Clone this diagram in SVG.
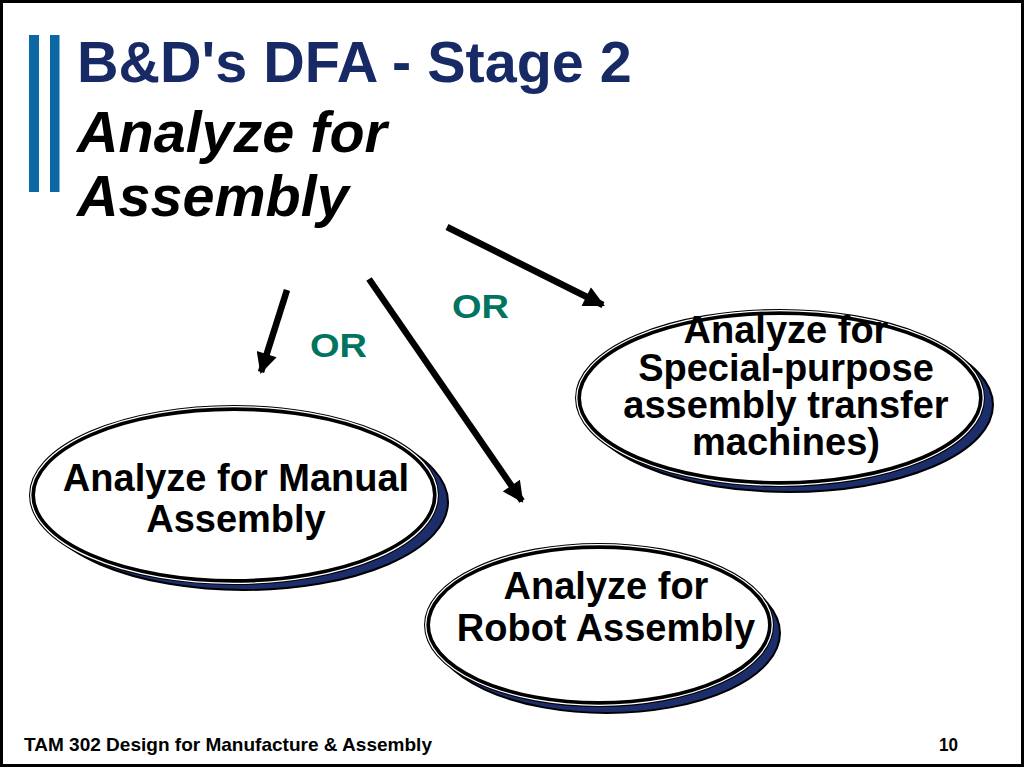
<svg xmlns="http://www.w3.org/2000/svg" width="1024" height="768" viewBox="0 0 1024 768">
<defs>
<marker id="ah" viewBox="0 0 10 10" refX="9" refY="5" markerWidth="3.4" markerHeight="3.2" orient="auto" markerUnits="strokeWidth">
<path d="M0,0 L10,5 L0,10 z" fill="#000"/>
</marker>
</defs>
<style>
.t{font-family:"Liberation Sans",Arial,sans-serif;font-weight:bold}
.title{fill:#172a66;font-size:57.5px}
.sub{fill:#000;font-size:57.5px;font-style:italic}
.lbl{fill:#000;font-size:38px;text-anchor:middle}
.or{fill:#00745f;font-size:34px}
.sh{fill:#1c2d6b;stroke:#000;stroke-width:2}
.el{fill:#fff;stroke:#000;stroke-width:6}
.in{fill:none;stroke:#fff;stroke-width:1.3}
.ar{stroke:#000;stroke-width:6.5;fill:none;marker-end:url(#ah)}
.ft{fill:#000;font-size:19px}
</style>
<rect x="0" y="0" width="1024" height="768" fill="#fff"/>
<rect x="1.5" y="1.5" width="1021" height="764" fill="none" stroke="#000" stroke-width="3"/>
<g id="title">
<rect x="29" y="35" width="10" height="157" fill="#0b68a4"/>
<rect x="50" y="35" width="9.5" height="157" fill="#0b68a4"/>
<text class="t title" x="77" y="82">B&amp;D's DFA - Stage 2</text>
<text class="t sub" x="77" y="152">Analyze for</text>
<text class="t sub" x="77" y="216">Assembly</text>
</g>
<g id="connectors">
<line class="ar" x1="287" y1="290" x2="261" y2="372"/>
<line class="ar" x1="447" y1="227" x2="603" y2="305"/>
<line class="ar" x1="369" y1="279" x2="522" y2="501"/>
</g>
<g id="or-labels">
<text class="t or" x="310" y="357" textLength="57" lengthAdjust="spacingAndGlyphs">OR</text>
<text class="t or" x="452" y="318" textLength="57" lengthAdjust="spacingAndGlyphs">OR</text>
</g>
<g id="node-manual">
<ellipse class="sh" cx="244" cy="502" rx="204" ry="88"/>
<ellipse class="el" cx="234" cy="495" rx="202" ry="87"/>
<ellipse class="in" cx="234" cy="495" rx="203.3" ry="88.3"/>
<text class="t lbl" x="236" y="491">Analyze for Manual</text>
<text class="t lbl" x="236" y="532">Assembly</text>
</g>
<g id="node-special">
<ellipse class="sh" cx="789" cy="405" rx="204" ry="87"/>
<ellipse class="el" cx="780" cy="398" rx="202" ry="86"/>
<ellipse class="in" cx="780" cy="398" rx="203.3" ry="87.3"/>
<text class="t lbl" x="786" y="343">Analyze for</text>
<text class="t lbl" x="786" y="381">Special-purpose</text>
<text class="t lbl" x="786" y="418">assembly transfer</text>
<text class="t lbl" x="786" y="455">machines)</text>
</g>
<g id="node-robot">
<ellipse class="sh" cx="607" cy="633" rx="173" ry="80"/>
<ellipse class="el" cx="599" cy="625" rx="172" ry="79"/>
<ellipse class="in" cx="599" cy="625" rx="173.3" ry="80.3"/>
<text class="t lbl" x="606" y="599">Analyze for</text>
<text class="t lbl" x="606" y="641">Robot Assembly</text>
</g>
<g id="footer">
<text class="t ft" x="24" y="751" textLength="408" lengthAdjust="spacingAndGlyphs">TAM 302 Design for Manufacture &amp; Assembly</text>
<text class="t ft" x="939" y="751" textLength="19" lengthAdjust="spacingAndGlyphs">10</text>
</g>
</svg>
